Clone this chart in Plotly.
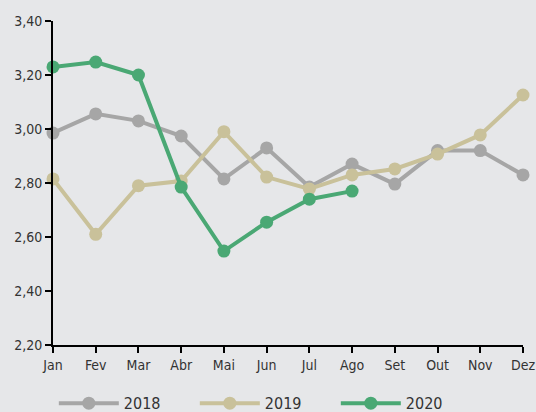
import plotly.graph_objects as go

months = ["Jan", "Fev", "Mar", "Abr", "Mai", "Jun", "Jul", "Ago", "Set", "Out", "Nov", "Dez"]
v2018 = [2.985, 3.056, 3.03, 2.974, 2.815, 2.93, 2.785, 2.87, 2.796, 2.92, 2.92, 2.83]
v2019 = [2.815, 2.61, 2.79, 2.807, 2.99, 2.822, 2.778, 2.83, 2.852, 2.907, 2.978, 3.126]
v2020 = [3.23, 3.248, 3.20, 2.785, 2.548, 2.655, 2.74, 2.77]
yticks = [2.2, 2.4, 2.6, 2.8, 3.0, 3.2, 3.4]

series = [("2018", v2018, "#a6a6a6"), ("2019", v2019, "#c9c19a"), ("2020", v2020, "#4aa874")]

fig = go.Figure()
for name, vals, col in series:
    fig.add_trace(go.Scatter(
        x=months[:len(vals)], y=vals, name=name, mode="lines+markers",
        line=dict(color=col, width=4), marker=dict(color=col, size=13),
        cliponaxis=False,
    ))

fig.update_layout(
    width=536, height=412,
    margin=dict(l=53, r=13, t=21, b=67, autoexpand=False),
    paper_bgcolor="#e6e7e9", plot_bgcolor="#e6e7e9",
    font=dict(family="DejaVu Sans Condensed, Roboto", size=14, color="#333333"),
    separators=", ",
    showlegend=True,
    legend=dict(orientation="h", xref="container", x=0.495, xanchor="center",
                yref="paper", y=-0.18, yanchor="middle",
                font=dict(size=16), itemwidth=60, entrywidth=66),
    xaxis=dict(type="category", categoryorder="array", categoryarray=months,
               range=[0, 11], autorange=False, showgrid=False, zeroline=False,
               showline=True, linecolor="#000000", linewidth=2,
               ticks="outside", ticklen=6, tickcolor="#000000", tickwidth=2),
    yaxis=dict(range=[2.2, 3.4], autorange=False, tickvals=yticks, tickformat=".2f",
               showgrid=False, zeroline=False, showline=True, linecolor="#000000", linewidth=2,
               ticks="outside", ticklen=6, tickcolor="#000000", tickwidth=2),
)
fig.write_html("out.html", config={"displayModeBar": False},
               post_script="document.body.style.margin='0';document.body.style.overflow='hidden';")
